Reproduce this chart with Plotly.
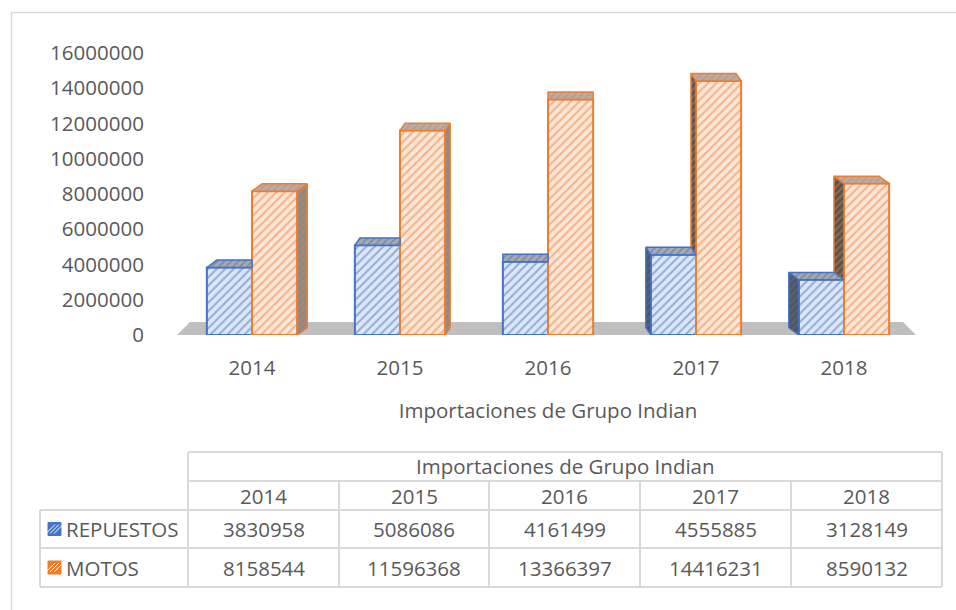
import plotly.graph_objects as go

# ---------------- data ----------------
years = ["2014", "2015", "2016", "2017", "2018"]
repuestos = [3830958, 5086086, 4161499, 4555885, 3128149]
motos = [8158544, 11596368, 13366397, 14416231, 8590132]
series_names = ["REPUESTOS", "MOTOS"]
axis_title = "Importaciones de Grupo Indian"
y_tick_values = [0, 2000000, 4000000, 6000000, 8000000, 10000000, 12000000, 14000000, 16000000]

# ---------------- style ----------------
FONT = "Open Sans"
FS = 20.5
TXT = "#595959"
BLUE = "#4472C4"
BLUE_BG = "#DCE6F5"
ORANGE = "#ED7D31"
ORANGE_BG = "#FCE6D8"
GRID = "#D9D9D9"

W, H = 956, 610
L, R, T, B = 178, 918, 53, 335  # plot area in pixels

def px(x):
    return (x - L) / (R - L)

def py(y):
    return (B - y) / (B - T)

fig = go.Figure()

bargap = 0.39
bw = (1 - bargap) / 2
xs = list(range(len(years)))

fig.add_trace(go.Bar(
    x=xs, y=repuestos, name=series_names[0],
    marker=dict(line=dict(color=BLUE, width=2),
                pattern=dict(shape="/", fgcolor=BLUE, bgcolor=BLUE_BG, size=6, solidity=0.35)),
    hoverinfo="skip",
))
fig.add_trace(go.Bar(
    x=xs, y=motos, name=series_names[1],
    marker=dict(line=dict(color=ORANGE, width=2),
                pattern=dict(shape="/", fgcolor=ORANGE, bgcolor=ORANGE_BG, size=6, solidity=0.35)),
    hoverinfo="skip",
))

# ---- pseudo 3D faces (derived from the data through the axes) ----
depth_h = 420000  # vertical depth offset in data units

def face(xp, yp, col, bg):
    fig.add_trace(go.Scatter(
        x=xp + [xp[0]], y=yp + [yp[0]], mode="lines", fill="toself",
        line=dict(color=col, width=1.5),
        fillcolor=bg,
        fillpattern=dict(shape="/", fgcolor=col, bgcolor=bg, size=5, solidity=0.35),
        hoverinfo="skip", showlegend=False,
    ))

for i in xs:
    dx = (2 - i) * 0.034
    vb, vo = repuestos[i], motos[i]
    bl, br = i - bw, i          # blue bar edges
    ol, orr = i, i + bw         # orange bar edges
    # side faces
    if dx > 0:
        face([orr, orr, orr + dx, orr + dx], [0, vo, vo + depth_h, depth_h], ORANGE, "#8A8A8A")
    elif dx < 0:
        face([bl, bl, bl + dx, bl + dx], [0, vb, vb + depth_h, depth_h], BLUE, "#555555")
        face([ol, ol, ol + dx, ol + dx], [vb, vo, vo + depth_h, vb + depth_h], ORANGE, "#555555")
    # top faces
    if dx >= 0:
        face([bl, br, br, bl + dx], [vb, vb, vb + depth_h, vb + depth_h], BLUE, "#A9A9A9")
        face([ol, orr, orr + dx, ol + dx], [vo, vo, vo + depth_h, vo + depth_h], ORANGE, "#B0B0B0")
    else:
        face([bl, br, br + dx, bl + dx], [vb, vb, vb + depth_h, vb + depth_h], BLUE, "#A9A9A9")
        face([ol, orr, orr + dx, ol + dx], [vo, vo, vo + depth_h, vo + depth_h], ORANGE, "#B0B0B0")

shapes = []
# floor
shapes.append(dict(
    type="path", xref="paper", yref="paper", layer="below",
    path=f"M {px(177)},{py(335)} L {px(190)},{py(322)} L {px(903)},{py(322)} L {px(916)},{py(335)} Z",
    fillcolor="#BFBFBF", line=dict(width=0),
))
# outer chart border
shapes.append(dict(type="rect", xref="paper", yref="paper",
                   x0=px(11.5), y0=py(12.5), x1=px(970), y1=py(625),
                   line=dict(color=GRID, width=1.5), fillcolor="rgba(0,0,0,0)"))

# ---- data table ----
col_x = [188, 339, 489, 640, 791, 942]
row_y = [452, 481, 510, 548, 587]
left_x = 40

def hline(x0, x1, y):
    shapes.append(dict(type="line", xref="paper", yref="paper",
                       x0=px(x0), x1=px(x1), y0=py(y), y1=py(y),
                       line=dict(color=GRID, width=2)))

def vline(x, y0, y1):
    shapes.append(dict(type="line", xref="paper", yref="paper",
                       x0=px(x), x1=px(x), y0=py(y0), y1=py(y1),
                       line=dict(color=GRID, width=2)))

hline(col_x[0], col_x[-1], row_y[0])
hline(col_x[0], col_x[-1], row_y[1])
for y in row_y[2:]:
    hline(left_x, col_x[-1], y)
vline(left_x, row_y[2], row_y[-1])
vline(col_x[0], row_y[0], row_y[-1])
vline(col_x[-1], row_y[0], row_y[-1])
for x in col_x[1:-1]:
    vline(x, row_y[1], row_y[-1])

annotations = []

def txt(text, x, y, xanchor="center"):
    annotations.append(dict(text=text, xref="paper", yref="paper", x=px(x), y=py(y),
                            xanchor=xanchor, yanchor="middle", showarrow=False,
                            font=dict(family=FONT, size=FS, color=TXT)))

txt(axis_title, (col_x[0] + col_x[-1]) / 2, (row_y[0] + row_y[1]) / 2 - 1)
for j, yr in enumerate(years):
    cx = (col_x[j] + col_x[j + 1]) / 2
    txt(yr, cx, (row_y[1] + row_y[2]) / 2)
    txt(str(repuestos[j]), cx, (row_y[2] + row_y[3]) / 2)
    txt(str(motos[j]), cx, (row_y[3] + row_y[4]) / 2)
txt(series_names[0], 64, (row_y[2] + row_y[3]) / 2, "left")
txt(series_names[1], 64, (row_y[3] + row_y[4]) / 2, "left")

# legend keys in the table
for (yc, col) in [((row_y[2] + row_y[3]) / 2, BLUE), ((row_y[3] + row_y[4]) / 2, ORANGE)]:
    x0, x1 = 48, 61
    y0, y1 = yc - 6.5, yc + 6.5
    shapes.append(dict(type="rect", xref="paper", yref="paper",
                       x0=px(x0), x1=px(x1), y0=py(y0), y1=py(y1),
                       fillcolor=col, line=dict(color=col, width=1)))
    for off in (-4, 0, 4):
        shapes.append(dict(type="line", xref="paper", yref="paper",
                           x0=px(x0 + 2 + off), y0=py(y1 - 2),
                           x1=px(x1 - 2 + off), y1=py(y0 + 2),
                           line=dict(color="white", width=1)))

fig.update_layout(
    width=W, height=H, autosize=False,
    margin=dict(l=L, r=W - R, t=T, b=H - B, pad=0),
    paper_bgcolor="white", plot_bgcolor="rgba(0,0,0,0)",
    barmode="group", bargap=bargap, bargroupgap=0,
    showlegend=False,
    font=dict(family=FONT, size=FS, color=TXT),
    shapes=shapes, annotations=annotations,
    xaxis=dict(range=[-0.5, 4.5], tickvals=xs, ticktext=years,
               showgrid=False, zeroline=False, showline=False,
               ticks="outside", ticklen=14, tickcolor="rgba(0,0,0,0)",
               tickfont=dict(family=FONT, size=FS, color=TXT),
               title=dict(text=axis_title, standoff=24,
                          font=dict(family=FONT, size=FS, color=TXT))),
    yaxis=dict(range=[0, 16000000], tickvals=y_tick_values,
               ticktext=[str(v) for v in y_tick_values],
               showgrid=False, zeroline=False, showline=False,
               ticks="outside", ticklen=29, tickcolor="rgba(0,0,0,0)",
               tickfont=dict(family=FONT, size=FS, color=TXT)),
)

fig.write_html("out.html", config={"displayModeBar": False},
               post_script="document.body.style.margin='0';")
